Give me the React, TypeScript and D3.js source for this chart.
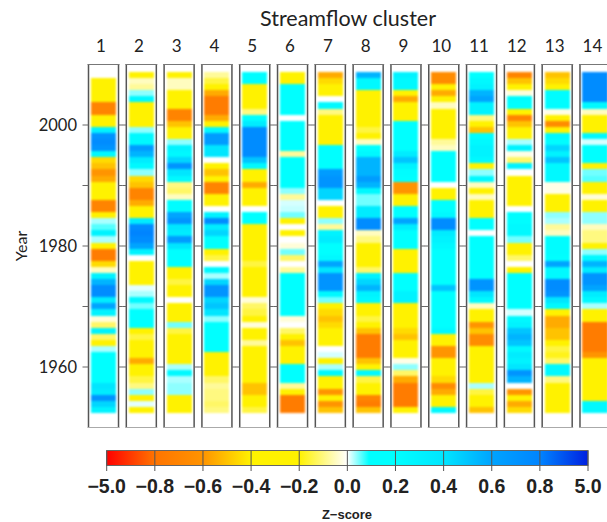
import React, { useEffect, useRef } from 'react';
import * as d3 from 'd3';

const width = 607;
const height = 522;

const years = d3.range(2008, 1952, -1);
const yearTicks = [2000, 1990, 1980, 1970, 1960];
const yearLabels = [2000, 1980, 1960];

const clusters = ['1', '2', '3', '4', '5', '6', '7', '8', '9', '10', '11', '12', '13', '14'];

// z-scores per cluster, 2008 down to 1953
const c1 = [0, -.3, -.3, -.3, -.3, -.7, -.7, -.35, -.35, .3, .7, .75, .7, .25, -.45, -.5, -.6, -.55, -.4, -.3, -.35, -.7, -.7, -.4, .03, .06, .3, .03, -.4, -.75, -.75, -.45, -.05, .3, .55, .75, .75, .35, .6, .3, -.03, -.12, .3, -.12, -.2, .03, .2, .2, .2, .2, .2, .4, .35, .7, .45, .3];
const c2 = [-.3, -.05, -.08, .04, .25, -.35, -.4, -.4, -.35, .04, .25, .25, .65, .55, .35, .25, .04, -.45, -.5, -.7, -.7, -.55, -.35, -.35, .35, .75, .8, .75, .6, .3, 0, -.3, -.3, -.3, -.3, .01, .03, .25, .05, .2, .2, .2, -.3, -.15, -.3, -.3, -.3, -.55, -.35, -.35, -.15, -.1, .04, -.4, .01, -.2];
const c3 = [-.3, -.05, -.05, -.3, -.4, -.35, -.7, -.7, -.5, -.35, -.35, .04, .3, .25, .45, .7, .4, .25, -.1, -.12, -.05, .22, .22, .6, .7, .4, .35, .65, .4, .2, .2, .2, -.3, -.3, -.15, -.35, -.35, 0, -.3, -.3, -.3, .05, -.15, -.3, -.3, -.3, -.3, -.3, .03, .25, .03, .04, .04, -.3, -.3, -.3];
const c4 = [-.08, -.15, -.3, -.55, -.75, -.75, -.75, -.55, -.35, .25, .65, .65, .4, .4, 0, -.3, -.5, -.4, -.7, -.7, -.3, -.3, 0, .3, .75, .35, .45, .2, .2, -.35, -.15, 0, .25, .03, .45, .7, .7, .45, .5, .4, .04, .2, .2, .2, .2, .2, -.3, -.3, -.3, -.3, -.12, -.08, -.1, -.1, -.12, -.1];
const c5 = [.22, .22, -.3, -.3, -.3, -.3, -.1, .2, .35, .75, .75, .75, .75, .75, .5, .25, -.35, -.35, -.55, -.3, -.3, -.25, 0, .2, .2, -.3, -.3, -.3, -.3, -.3, -.3, -.15, -.3, -.3, -.3, -.2, -.25, -.03, -.12, -.15, -.2, -.03, -.2, -.25, -.08, -.3, -.3, -.3, -.3, -.3, -.35, -.5, -.5, -.35, -.35, -.15];
const c6 = [-.35, -.35, .2, .2, .2, .2, .2, 0, .2, .2, .2, .2, .2, -.08, .2, .2, .2, .2, .2, .04, -.08, .015, .02, .05, -.35, 0, -.35, 0, -.03, .05, -.12, 0, -.08, .2, .2, .2, .2, .2, .2, .2, -.03, 0, -.12, -.35, -.5, -.35, -.35, -.35, .2, .2, .2, -.08, -.35, -.75, -.75, -.75];
const c7 = [-.55, -.45, -.35, -.35, 0, .25, -.1, -.3, -.3, -.3, -.3, -.3, .2, .2, .2, .2, .65, .7, .7, .45, .45, 0, -.35, -.35, .04, -.08, .3, .35, .2, .2, .25, .6, .4, .7, .7, .7, .25, .05, -.35, -.45, -.5, -.45, -.3, -.3, -.3, 0, .015, -.2, .03, .25, -.3, -.3, -.6, -.4, -.6, -.5];
const c8 = [.55, .25, .25, -.3, -.3, -.3, -.3, -.3, -.3, -.15, -.3, -.05, .2, .25, .55, .55, .55, .65, .55, .25, .05, .05, .35, .35, .75, .75, -.05, -.1, -.3, -.4, -.4, -.25, -.12, .3, .45, .55, .3, .25, -.3, -.3, -.15, -.3, -.5, -.75, -.75, -.75, -.75, -.5, -.35, .25, -.15, -.35, -.35, -.7, -.75, -.5];
const c9 = [.3, .25, .25, -.35, -.55, -.3, -.3, -.3, .2, .2, .2, .2, .2, .35, .5, .3, .22, .2, -.6, -.6, -.35, -.35, .2, .2, .6, .35, .2, .2, .2, -.3, -.3, -.3, -.2, .2, .2, .2, .3, .3, -.3, -.3, -.3, -.3, -.45, -.5, -.35, -.3, -.3, -.02, .04, -.12, -.55, -.75, -.75, -.75, -.75, -.3];
const c10 = [-.65, -.65, -.4, -.55, -.35, -.05, -.3, -.3, -.3, -.3, -.3, -.08, -.05, .2, .2, .2, .2, .2, 0, -.3, -.3, .2, .2, .25, .75, .75, .35, .3, .25, .2, .2, .2, .2, .2, .2, .5, .2, .2, .2, .2, .2, .2, .25, -.35, -.35, -.6, -.6, -.35, -.4, -.4, -.45, -.65, -.55, -.3, -.3, .25];
const c11 = [.2, .25, .3, .55, .6, .3, .3, -.1, -.35, -.5, .2, .25, .3, .3, .25, -.35, .04, .25, -.05, -.2, -.05, -.3, -.3, -.3, .2, .2, 0, .2, .2, .2, .2, .2, .2, .2, .7, .7, .4, .25, -.05, -.35, -.3, -.6, -.5, -.65, -.65, -.3, -.3, -.3, -.3, -.3, -.3, .03, -.15, -.35, -.3, -.5];
const c12 = [-.7, -.5, -.35, -.03, .22, .2, -.3, -.7, -.5, -.35, -.35, .03, .3, -.02, -.12, .3, 0, -.3, -.3, -.3, -.3, -.3, 0, .22, .22, .25, .25, .05, -.2, -.35, -.12, 0, -.2, .2, .2, .2, .2, .2, .2, .015, .25, .3, .5, .55, .5, .25, .35, .3, .4, .7, .55, 0, -.6, -.35, -.55, -.45];
const c13 = [-.5, -.45, -.35, .22, .22, .22, -.02, -.3, -.65, -.35, .25, .22, .45, .3, .5, .25, .25, .25, -.02, -.02, -.3, -.3, -.3, .04, .03, -.08, -.05, .22, .22, .22, .2, .6, .25, .25, .75, .75, .7, .4, .25, -.35, -.55, -.55, -.5, -.5, -.35, -.15, -.18, -.12, .25, .25, -.1, -.3, -.3, -.3, -.3, -.3];
const c14 = [.75, .75, .75, .75, .75, .25, -.05, -.3, -.3, -.3, .25, .015, .2, .2, .2, -.35, .05, .06, -.3, -.25, -.03, -.35, -.35, .04, .04, -.05, -.1, -.1, -.35, .04, .25, .55, .35, .7, .7, .6, .35, .25, .03, -.35, -.35, -.75, -.75, -.75, -.75, -.75, -.6, -.35, -.35, -.35, -.25, -.2, -.2, -.3, .25, .25];
const series = [c1, c2, c3, c4, c5, c6, c7, c8, c9, c10, c11, c12, c13, c14];

const barTicks = [-5, -0.8, -0.6, -0.4, -0.2, 0, 0.2, 0.4, 0.6, 0.8, 5];
const barLabels = ['−5.0', '−0.8', '−0.6', '−0.4', '−0.2', '0.0', '0.2', '0.4', '0.6', '0.8', '5.0'];
const colorValues = [-5, -0.8, -0.6, -0.4, -0.2, 0, 0.09, 0.2, 0.4, 0.6, 0.8, 5];
const colorRange = ['#ff0000', '#ff7400', '#ff9400', '#fff200', '#fff200', '#ffffff', '#00ffff', '#00ffff', '#00e6ff', '#00a4ff', '#0084ff', '#0020e0'];

const App = () => {
  const svgRef = useRef<SVGSVGElement>(null);

  useEffect(() => {
    const svg = d3.select(svgRef.current);
    svg.selectAll('*').remove();

    const x = d3.scaleBand().domain(clusters).range([88.5, 610]).paddingInner(0.206);
    const y = d3.scaleLinear().domain([2010, 1950]).range([64.5, 427.5]);
    const cellY = d3.scaleBand().domain(years.map(String)).range([72, 413]);
    const color = d3.scaleLinear<string>().domain(colorValues).range(colorRange).clamp(true);

    const defs = svg.append('defs');
    defs.append('filter').attr('id', 'soft')
      .attr('color-interpolation-filters', 'sRGB')
      .append('feGaussianBlur').attr('stdDeviation', 0.8);

    // Cluster columns
    const panel = svg.selectAll('.panel')
      .data(series)
      .enter()
      .append('g')
      .attr('class', 'panel')
      .attr('transform', (d, i) => `translate(${x(clusters[i])},0)`);

    panel.append('g')
      .attr('filter', 'url(#soft)')
      .selectAll('rect')
      .data(d => d)
      .enter()
      .append('rect')
      .attr('x', 2.5)
      .attr('width', x.bandwidth() - 5)
      .attr('y', (d, i) => cellY(String(years[i])))
      .attr('height', (d, i) => cellY.bandwidth() + (i < years.length - 1 ? 1 : 0))
      .attr('shape-rendering', 'crispEdges')
      .attr('fill', d => color(d));

    // Frames
    panel.selectAll('.side')
      .data([0, x.bandwidth()])
      .enter()
      .append('line')
      .attr('class', 'side')
      .attr('x1', d => d).attr('x2', d => d)
      .attr('y1', y(2010)).attr('y2', y(1950))
      .attr('stroke', '#555')
      .attr('stroke-width', 1.5);
    panel.append('line')
      .attr('x1', -1).attr('x2', x.bandwidth() + 1)
      .attr('y1', y(2010)).attr('y2', y(2010))
      .attr('stroke', '#777').attr('stroke-width', 1);
    panel.append('line')
      .attr('x1', -1).attr('x2', x.bandwidth() + 1)
      .attr('y1', y(1950)).attr('y2', y(1950))
      .attr('stroke', '#aaa').attr('stroke-width', 1);

    panel.each(function (d, i) {
      const g = d3.select(this);
      yearTicks.forEach(t => {
        g.append('line')
          .attr('x1', i === 0 ? -6 : -4).attr('x2', 0)
          .attr('y1', y(t)).attr('y2', y(t))
          .attr('stroke', '#666');
        g.append('line')
          .attr('x1', x.bandwidth()).attr('x2', x.bandwidth() + 4)
          .attr('y1', y(t)).attr('y2', y(t))
          .attr('stroke', '#666');
      });
    });

    const labelFont = 'Lato, "Open Sans", sans-serif';

    svg.selectAll('.cluster')
      .data(clusters)
      .enter()
      .append('text')
      .attr('class', 'cluster')
      .attr('x', d => x(d) + x.bandwidth() / 2 - 2.5)
      .attr('y', 52)
      .attr('text-anchor', 'middle')
      .attr('font-family', labelFont)
      .attr('font-size', 17)
      .attr('fill', '#222')
      .text(d => d);

    svg.append('text')
      .attr('x', 348).attr('y', 26)
      .attr('text-anchor', 'middle')
      .attr('font-family', labelFont)
      .attr('font-size', 21.5)
      .attr('fill', '#222')
      .text('Streamflow cluster');

    svg.selectAll('.year')
      .data(yearLabels)
      .enter()
      .append('text')
      .attr('class', 'year')
      .attr('x', 77)
      .attr('y', d => y(d) + 6)
      .attr('text-anchor', 'end')
      .attr('font-family', labelFont)
      .attr('font-size', 16.5)
      .attr('fill', '#222')
      .text(d => d);

    svg.append('text')
      .attr('transform', 'translate(27,246) rotate(-90)')
      .attr('text-anchor', 'middle')
      .attr('font-family', labelFont)
      .attr('font-size', 16)
      .attr('fill', '#222')
      .text('Year');

    // Colour bar
    const barX = d3.scaleLinear()
      .domain(barTicks)
      .range(barTicks.map((d, i) => 106.7 + i * 48.13));

    const grad = defs.append('linearGradient').attr('id', 'bar');
    colorValues.forEach((v, i) => {
      grad.append('stop')
        .attr('offset', (barX(v) - barX(-5)) / (barX(5) - barX(-5)))
        .attr('stop-color', colorRange[i]);
    });

    svg.append('rect')
      .attr('x', barX(-5)).attr('y', 450.5)
      .attr('width', barX(5) - barX(-5)).attr('height', 15)
      .attr('fill', 'url(#bar)')
      .attr('stroke', '#666');

    svg.selectAll('.barTick')
      .data(barTicks)
      .enter()
      .append('line')
      .attr('class', 'barTick')
      .attr('x1', d => barX(d)).attr('x2', d => barX(d))
      .attr('y1', 450.5).attr('y2', 471)
      .attr('stroke', '#555');

    svg.selectAll('.barLabel')
      .data(barLabels)
      .enter()
      .append('text')
      .attr('class', 'barLabel')
      .attr('x', (d, i) => barX(barTicks[i]))
      .attr('y', 493)
      .attr('text-anchor', 'middle')
      .attr('font-family', '"Liberation Sans", Arial, sans-serif')
      .attr('font-weight', 'bold')
      .attr('font-size', 19.5)
      .attr('fill', '#222')
      .text(d => d);

    svg.append('text')
      .attr('x', 347).attr('y', 519)
      .attr('text-anchor', 'middle')
      .attr('font-family', '"Liberation Sans", Arial, sans-serif')
      .attr('font-weight', 'bold')
      .attr('font-size', 13)
      .attr('fill', '#222')
      .text('Z−score');
  }, []);

  return (
    <svg
      ref={svgRef}
      width={width}
      height={height}
      style={{ position: 'absolute', left: 0, top: 0, background: '#fff' }}
    />
  );
};

export default App;
